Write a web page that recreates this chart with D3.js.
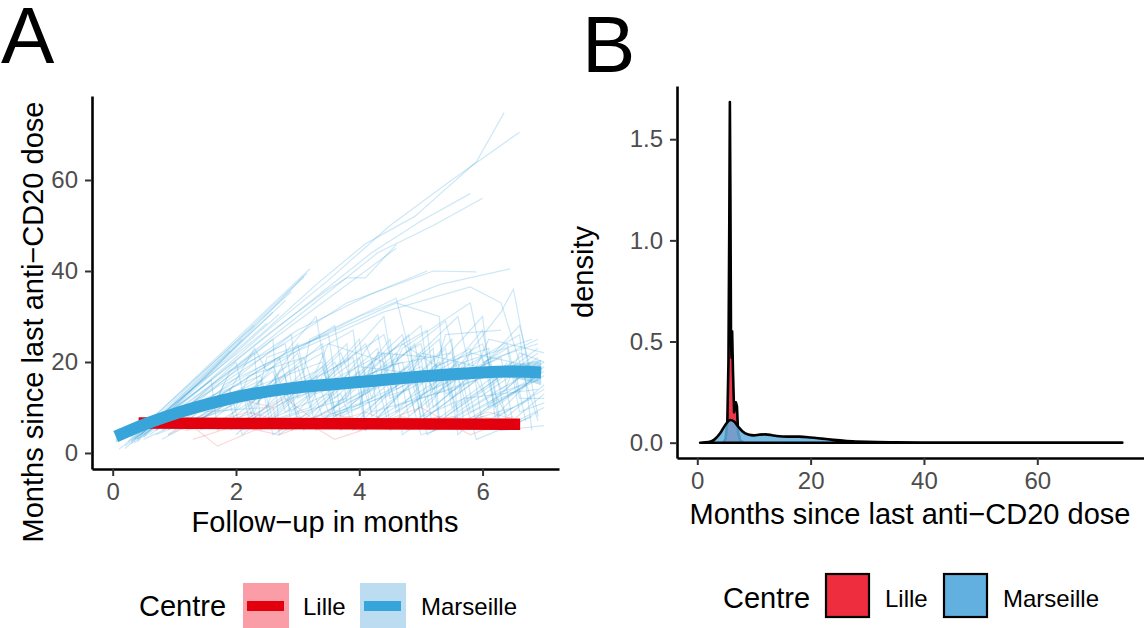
<!DOCTYPE html>
<html><head><meta charset="utf-8">
<script src="https://cdn.jsdelivr.net/npm/d3@7"></script>
<style>
body{margin:0;background:#fff}
text{font-family:"Liberation Sans",Arial,Helvetica,sans-serif}
</style>
</head><body><svg id="c" width="1144" height="628"></svg>
<script>
// ---------- DATA ----------
const centres = ["Lille", "Marseille"];
const xTicksA = [0, 2, 4, 6];
const yTicksA = [0, 20, 40, 60];
const xTicksB = [0, 20, 40, 60];
const yTicksB = [0, 0.5, 1.0, 1.5];

// individual trajectories, Lille: [follow-up, months since last dose]
const lilleTraj = [
  [[0.5,6],[1.0,9],[1.7,1.5],[2.3,5],[3.0,8],[3.6,3],[4.5,7],[5.2,5],[6.0,8],[6.6,6]],
  [[0.9,4],[1.5,8],[2.0,12],[2.6,10],[2.7,5],[3.5,9],[4.2,6],[5.0,10],[5.8,4],[6.4,7]],
  [[0.4,7],[1.2,5],[2.1,7],[2.8,12],[3.4,6],[4.1,9],[4.8,5],[5.5,8],[6.2,6]],
  [[1.3,3],[2.0,6],[2.7,4],[3.3,7],[4.0,5],[4.7,8],[5.4,6],[6.1,9],[6.6,7]],
  [[0.6,8],[1.4,6],[2.2,9],[3.0,6],[3.8,8],[4.6,6],[5.3,8],[6.0,6.5],[6.5,8]]
];

// individual trajectories, Marseille
const marseilleTraj = [
  [[0.1,0.8],[1.2,13],[2.4,26],[3.3,37],[4.1,46],[4.9,52],[5.4,58],[5.9,64],[6.35,74.8]],
  [[0.2,1.6],[1.4,14],[2.6,28],[3.5,38],[4.5,50],[5.5,60],[6.6,70.5]],
  [[0.3,2.5],[1.6,16],[2.9,30],[4.2,44],[5.0,51],[5.8,57]],
  [[0.4,3],[1.8,17],[3.0,30],[4.3,44],[5.2,50],[6.0,56]],
  [[0.35,3],[1.5,15],[2.6,27],[3.5,36],[3.8,38.5],[4.1,38.5],[4.6,45.8]],
  [[0.5,3.5],[1.8,17],[3.2,31],[4.6,45]],
  [[0.6,4],[2.0,18],[3.0,27],[4.2,35],[5.1,40]],
  [[0.5,4],[2.2,19],[3.8,33],[5.2,40],[5.9,39.8]],
  [[0.7,5],[2.4,19],[4.0,30],[5.3,37],[6.45,40.5]],
  [[0.8,5],[2.6,20],[4.4,31],[5.8,36.5],[6.3,33],[6.9,7]],
  [[0.9,5],[2.8,22],[4.6,33],[5.3,30],[5.4,8],[6.5,19]],
  [[0.25,2.5],[3.2,40.5]],
  [[0.3,2.8],[1.5,16.5],[3.15,39.5]],
  [[0.35,3.2],[3.1,38.8]],
  [[0.3,3.5],[2.9,35.5]],
  [[0.4,3],[2.6,31]],
  [[0.35,2.2],[2.7,30.5]],
  [[0.45,4],[2.3,28]],
  [[0.5,3.5],[2.1,25]],
  [[0.3,2],[1.9,22.5]],
  [[0.2,1],[2.5,28.5]],
  [[0.4,2.5],[2.8,33.5]],
  [[0.6,5],[1.6,16],[1.7,5],[2.8,17],[2.9,5],[4.2,20],[4.3,6],[5.6,18],[5.7,6],[6.8,16]],
  [[0.8,6],[2.3,22],[2.4,6],[3.8,24],[3.9,5],[5.2,23],[5.3,7],[6.9,22]],
  [[1.0,7],[2.6,25],[2.7,4],[4.0,18],[4.1,5],[5.5,25],[5.6,6],[6.7,15]],
  [[0.7,5],[1.9,14],[2.1,4],[3.3,17],[3.5,9],[4.8,26],[5.0,7],[6.2,19],[6.4,6],[7.0,10]],
  [[0.9,6],[2.0,20],[2.2,8],[3.0,24],[3.3,5],[4.5,25],[4.7,4],[5.9,16],[6.1,11],[6.9,20]],
  [[1.2,8],[2.9,26],[3.0,12],[4.4,22],[4.6,9],[6.0,30],[6.2,8],[7.0,19]],
  [[1.5,10],[2.4,16],[2.6,4],[3.7,13],[3.9,6],[5.0,21],[5.2,5],[6.6,14]],
  [[1.1,8],[2.8,14],[3.1,5],[4.3,26],[4.5,12],[5.7,20],[5.9,6],[6.8,12]],
  [[1.8,12],[3.4,20],[3.6,7],[4.9,24],[5.1,10],[6.3,31],[6.5,36],[6.9,8]],
  [[2.0,4],[3.1,18],[3.2,25],[4.6,34],[5.0,12],[6.1,17],[6.3,5],[7.0,6]],
  [[1.4,9],[2.5,10],[2.7,18],[3.9,27],[4.1,6],[5.4,17],[5.6,9],[6.9,21]],
  [[1.0,5],[2.2,12],[2.4,5],[3.6,20],[3.8,14],[5.0,28],[5.2,10],[6.4,24],[6.6,12],[7.0,12]],
  [[2.2,10],[3.0,22],[3.2,12],[4.4,30],[4.6,14],[5.8,23],[6.0,6],[7.0,14]],
  [[1.6,6],[2.7,15],[2.9,9],[4.1,24],[4.3,17],[5.4,29],[5.6,18],[6.6,26],[6.8,5]],
  [[0.8,3],[1.9,11],[2.0,6],[3.2,16],[3.4,8],[4.8,14],[5.0,4],[6.5,10]],
  [[2.5,14],[3.4,24],[3.6,9],[4.8,19],[5.0,8],[6.1,20],[6.3,14],[7.0,20]],
  [[1.3,7],[2.6,19],[2.8,13],[3.9,21],[4.1,5],[5.4,23],[5.6,4],[6.7,18]],
  [[3.0,9],[4.0,25],[4.2,8],[5.3,20],[5.5,12],[6.6,28],[6.8,17]],
  [[2.3,6],[3.5,13],[3.7,5],[4.9,18],[5.1,4],[6.2,13],[6.4,8],[7.0,15]],
  [[1.7,9],[2.3,23],[2.5,18],[3.6,28],[3.8,11],[5.0,19],[5.2,14],[6.3,21],[6.5,6],[6.9,9]],
  [[0.9,4],[1.7,12],[1.9,18],[2.8,24],[3.0,6],[4.3,15],[4.5,5],[5.7,12],[5.9,3],[6.8,8]],
  [[2.8,5],[4.0,10],[4.2,20],[5.1,27],[5.3,6],[6.4,15],[6.6,22],[7.0,20]],
  [[3.4,6],[4.5,17],[4.7,23],[5.8,33],[6.0,20],[6.9,24]],
  [[1.9,8],[3.3,30],[3.5,14],[4.7,20],[4.9,9],[6.0,27],[6.2,13],[6.9,16]],
  [[4.0,5],[5.0,12],[5.2,19],[6.1,23],[6.3,5],[7.0,13]],
  [[1.2,5],[2.1,14],[2.3,7],[3.4,19],[3.6,10],[4.6,22],[4.8,8],[6.0,21],[6.2,10],[7.0,18]],
  [[1.5,6],[2.6,18],[2.8,9],[4.0,21],[4.2,12],[5.3,25],[5.5,10],[6.7,22]],
  [[2.0,7],[3.0,19],[3.2,10],[4.3,23],[4.5,6],[5.6,20],[5.8,9],[6.9,17]],
  [[1.1,6],[2.4,15],[2.5,21],[3.5,26],[3.7,8],[4.9,16],[5.1,6],[6.2,16],[6.4,20]],
  [[2.6,8],[3.7,22],[3.9,15],[5.0,24],[5.2,13],[6.4,23],[6.6,9],[7.0,11]],
  [[1.4,5],[2.3,9],[2.5,15],[3.4,22],[3.6,12],[4.7,26],[4.9,15],[6.0,24],[6.2,16],[6.9,23]],
  [[3.2,7],[4.1,14],[4.3,22],[5.2,21],[5.4,13],[6.5,20],[6.7,7]],
  [[0.7,4],[1.6,9],[1.8,15],[2.7,21],[2.9,12],[4.0,17],[4.2,9],[5.5,14],[5.7,20],[6.8,25]],
  [[1.9,5],[2.9,12],[3.1,6],[4.2,12],[4.4,19],[5.5,22],[5.7,12],[6.9,14]],
  [[2.4,12],[3.3,18],[3.5,24],[4.4,20],[4.6,10],[5.9,19],[6.1,25],[7.0,22]],
  [[1.0,6],[2.0,10],[2.2,17],[3.1,21],[3.3,13],[4.5,19],[4.7,24],[5.6,16],[5.8,22],[6.8,19]],
  [[3.6,8],[4.8,16],[5.0,22],[5.9,19],[6.1,10],[7.0,17]],
  [[0.5,3],[1.3,8],[1.5,12],[2.4,17],[2.6,7],[3.8,12],[4.0,19],[5.2,17],[5.4,26],[6.3,27]],
  [[2.1,5],[3.2,10],[3.4,17],[4.4,26],[4.6,17],[5.6,30],[5.8,18],[6.9,25]]
];

// smoothed trends
const lilleSmooth = [[0.42,6.6],[2,6.5],[4,6.4],[6.61,6.3]];
const marseilleSmooth = [[0.05,3.6],[0.5,6.2],[1.0,8.6],[1.5,10.6],[2.0,12.3],[2.5,13.5],[3.0,14.4],[3.5,15.0],[4.0,15.6],[4.5,16.2],[5.0,16.8],[5.5,17.3],[6.0,17.7],[6.5,17.9],[6.95,17.7]];
const marseilleLow  = [2.3,5.4,8.0,10.1,11.8,13.0,13.9,14.5,15.1,15.7,16.2,16.6,16.8,16.4,14.9];
const marseilleHigh = [4.9,7.0,9.2,11.1,12.8,14.0,14.9,15.5,16.1,16.7,17.4,18.0,18.6,19.4,20.5];

// densities: [months since last dose, density]
const lilleDensity = [[4.6,0],[5.0,0.02],[5.3,0.1],[5.5,0.4],[5.65,1.1],[5.75,1.684],[5.85,1.2],[5.95,0.5],[6.05,0.42],[6.15,0.55],[6.3,0.35],[6.5,0.15],[6.8,0.2],[7.0,0.18],[7.2,0.05],[7.6,0.01],[8.2,0]];
const marseilleDensity = [[0.5,0],[2,0.003],[3,0.015],[4,0.045],[5,0.09],[5.8,0.112],[6.5,0.105],[7.2,0.08],[8,0.055],[9,0.04],[10,0.036],[11,0.04],[12,0.041],[13,0.038],[14,0.033],[16,0.03],[18,0.03],[20,0.026],[22,0.02],[24,0.014],[26,0.009],[28,0.006],[30,0.004],[35,0.002],[40,0.0012],[50,0.0008],[60,0.0005],[75,0.0003]];

// ---------- STYLE ----------
const lineCol = {Lille: "#E2000F", Marseille: "#38A5DA"};
const keyBg = {Lille: "#FB9DA6", Marseille: "#BBDCF1"};
const densCol = {Lille: "#EE2D3F", Marseille: "#62B0E0"};
const FONT = '"Liberation Sans", Arial, Helvetica, sans-serif';

const svg = d3.select("#c");
svg.append("rect").attr("width",1144).attr("height",628).attr("fill","#fff");

function styleAxis(g){
  g.select(".domain").attr("stroke","#000").attr("stroke-width",2.6);
  g.selectAll(".tick line").attr("stroke","#333").attr("stroke-width",2);
  g.selectAll(".tick text").attr("fill","#4D4D4D").attr("font-size",24).attr("font-family",FONT);
}

// ---------- PANEL A ----------
const xA = d3.scaleLinear().domain([-0.336, 7.24]).range([92, 559]);
const yA = d3.scaleLinear().domain([-3.52, 78.46]).range([469, 96]);
const gA = svg.append("g");
const lineA = d3.line().x(d=>xA(d[0])).y(d=>yA(d[1]));

gA.append("g").selectAll("path").data(lilleTraj).join("path")
  .attr("d", lineA).attr("fill","none").attr("stroke",lineCol.Lille)
  .attr("stroke-opacity",0.15).attr("stroke-width",1.2);
gA.append("g").selectAll("path").data(marseilleTraj).join("path")
  .attr("d", lineA).attr("fill","none").attr("stroke",lineCol.Marseille)
  .attr("stroke-opacity",0.25).attr("stroke-width",1.2);

// smooth trends
const ribbon = marseilleSmooth.map((d,i)=>({x:d[0], lo:marseilleLow[i], hi:marseilleHigh[i]}));
gA.append("path").datum(ribbon)
  .attr("d", d3.area().x(d=>xA(d.x)).y0(d=>yA(d.lo)).y1(d=>yA(d.hi)).curve(d3.curveMonotoneX))
  .attr("fill", lineCol.Marseille).attr("fill-opacity",0.35);
gA.append("path").datum(lilleSmooth)
  .attr("d", lineA.curve(d3.curveMonotoneX)).attr("fill","none")
  .attr("stroke",lineCol.Lille).attr("stroke-width",11.5);
gA.append("path").datum(marseilleSmooth)
  .attr("d", lineA.curve(d3.curveMonotoneX)).attr("fill","none")
  .attr("stroke",lineCol.Marseille).attr("stroke-width",12);

gA.append("g").attr("transform","translate(0,469)")
  .call(d3.axisBottom(xA).tickValues(xTicksA).tickSize(7).tickPadding(7).tickSizeOuter(0))
  .call(styleAxis);
gA.append("g").attr("transform","translate(92,0)")
  .call(d3.axisLeft(yA).tickValues(yTicksA).tickSize(7).tickPadding(7).tickSizeOuter(0))
  .call(styleAxis);

gA.append("text").attr("x",325).attr("y",532).attr("text-anchor","middle")
  .attr("font-size",29).text("Follow\u2212up in months");
gA.append("text").attr("transform","translate(43,322) rotate(-90)").attr("text-anchor","middle")
  .attr("font-size",29).text("Months since last anti\u2212CD20 dose");
svg.append("text").attr("x",1).attr("y",63).attr("font-size",80).text("A");

// ---------- PANEL B ----------
const xB = d3.scaleLinear().domain([-3.58, 78.83]).range([677, 1144]);
const yB = d3.scaleLinear().domain([-0.0757, 1.763]).range([458, 86]);
const gB = svg.append("g");
const areaB = d3.area().x(d=>xB(d[0])).y0(yB(0)).y1(d=>yB(d[1]));

gB.append("path").datum(lilleDensity).attr("d", areaB)
  .attr("fill", densCol.Lille).attr("fill-opacity",0.95)
  .attr("stroke","#000").attr("stroke-width",2.6).attr("stroke-linejoin","round");
gB.append("path").datum(marseilleDensity).attr("d", areaB.curve(d3.curveMonotoneX))
  .attr("fill", densCol.Marseille).attr("fill-opacity",0.85)
  .attr("stroke","#000").attr("stroke-width",2.6).attr("stroke-linejoin","round");

gB.append("g").attr("transform","translate(0,458)")
  .call(d3.axisBottom(xB).tickValues(xTicksB).tickSize(7).tickPadding(7).tickSizeOuter(0))
  .call(styleAxis);
gB.append("g").attr("transform","translate(677,0)")
  .call(d3.axisLeft(yB).tickValues(yTicksB).tickFormat(d3.format(".1f")).tickSize(7).tickPadding(7).tickSizeOuter(0))
  .call(styleAxis);

gB.append("text").attr("x",910).attr("y",524).attr("text-anchor","middle")
  .attr("font-size",29).text("Months since last anti\u2212CD20 dose");
gB.append("text").attr("transform","translate(593,272) rotate(-90)").attr("text-anchor","middle")
  .attr("font-size",29).text("density");
svg.append("text").attr("x",582).attr("y",72).attr("font-size",80).text("B");

// ---------- LEGENDS ----------
const legA = svg.append("g");
legA.append("text").attr("x",139).attr("y",616).attr("font-size",29).text("Centre");
const keyAx = {Lille: 243, Marseille: 360};
const labAx = {Lille: 303, Marseille: 421};
centres.forEach(c=>{
  legA.append("rect").attr("x",keyAx[c]).attr("y",583).attr("width",46).attr("height",46).attr("fill",keyBg[c]);
  legA.append("line").attr("x1",keyAx[c]+4).attr("x2",keyAx[c]+41).attr("y1",606).attr("y2",606)
    .attr("stroke",lineCol[c]).attr("stroke-width",10);
  legA.append("text").attr("x",labAx[c]).attr("y",614.5).attr("font-size",24).text(c);
});

const legB = svg.append("g");
legB.append("text").attr("x",723).attr("y",608).attr("font-size",29).text("Centre");
const keyBx = {Lille: 826, Marseille: 944};
const labBx = {Lille: 885, Marseille: 1003};
centres.forEach(c=>{
  legB.append("rect").attr("x",keyBx[c]).attr("y",574).attr("width",43).attr("height",43)
    .attr("fill",densCol[c]).attr("stroke","#000").attr("stroke-width",2.2);
  legB.append("text").attr("x",labBx[c]).attr("y",606.5).attr("font-size",24).text(c);
});
</script>
</body></html>
